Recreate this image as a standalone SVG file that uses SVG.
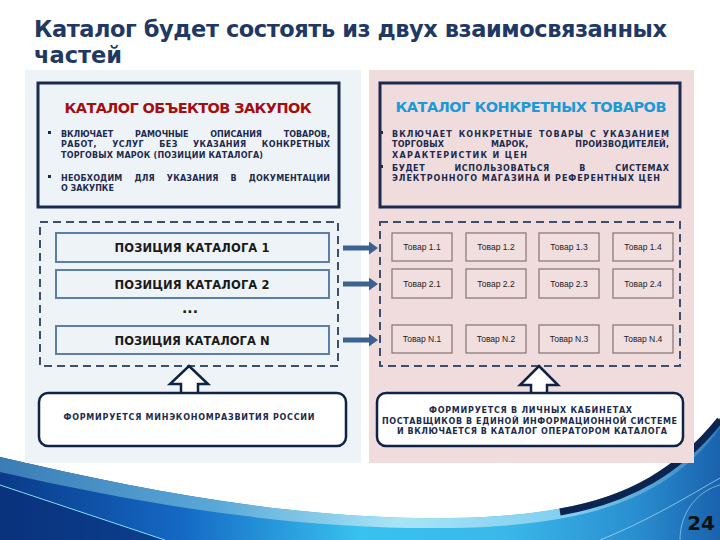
<svg xmlns="http://www.w3.org/2000/svg" width="720" height="540" viewBox="0 0 720 540">
<defs>
<style>
.t{font-family:"DejaVu Sans","Liberation Sans",sans-serif;font-weight:bold}
.title{font-size:22.5px;fill:#1f3864}
.bul{font-size:8px;fill:#1c2b4e}
.pos{font-size:11.5px;fill:#1a1a1a;text-anchor:middle}
.tov{font-family:"Liberation Sans",sans-serif;font-size:8.5px;fill:#222;text-anchor:middle}
.box{stroke:#1b2a4f;stroke-width:3;}
.dash{fill:none;stroke:#3d4f6e;stroke-width:2;stroke-dasharray:8 5}
.pbox{fill:#eef3f8;stroke:#5b7fa6;stroke-width:2}
.tbox{fill:#f1dede;stroke:#8c7b7b;stroke-width:1.3}
.conn{stroke:#3b6190;stroke-width:5;marker-end:url(#ah)}
.up{fill:#fff;stroke:#0f2346;stroke-width:2.5;stroke-linejoin:miter}
.rbox{fill:#fff;stroke:#0f2346;stroke-width:2.5}
.btxt{font-size:8px;fill:#1c2b4e;text-anchor:middle}
</style>
<marker id="ah" markerUnits="userSpaceOnUse" markerWidth="10" markerHeight="13" refX="0" refY="6.5" orient="auto">
<path d="M0,0 L9,6.5 L0,13 Z" fill="#3b6190"/>
</marker>
<linearGradient id="gBase" x1="0" y1="0" x2="1" y2="0">
<stop offset="0" stop-color="#0a3a88"/>
<stop offset="0.25" stop-color="#1468c4"/>
<stop offset="0.5" stop-color="#38c2ef"/>
<stop offset="0.7" stop-color="#3ab8ea"/>
<stop offset="0.88" stop-color="#2a8fd0"/>
<stop offset="1" stop-color="#1a62ad"/>
</linearGradient>
<linearGradient id="gTop" x1="0" y1="0" x2="1" y2="0">
<stop offset="0" stop-color="#3a7cb6"/>
<stop offset="0.3" stop-color="#5aa8d8"/>
<stop offset="0.55" stop-color="#a8e4f6"/>
<stop offset="0.8" stop-color="#7fcdf0"/>
<stop offset="1" stop-color="#2f7fc0"/>
</linearGradient>
</defs>
<rect width="720" height="540" fill="#ffffff"/>

<!-- bottom swoosh -->
<g id="swoosh">
<path d="M0,457 C150,492 300,520 450,518 C585,516 665,490 720,418 L720,540 L0,540 Z" fill="url(#gBase)"/>
<path d="M0,457 C150,492 300,520 450,518 C585,516 665,490 720,418 L720,428 C668,500 585,526 450,528 C300,530 150,506 0,472 Z" fill="url(#gTop)"/>
<path d="M0,485 C60,505 120,525 165,540 L0,540 Z" fill="#0a2f78" opacity="0.7"/>
<path d="M0,485 C60,505 120,525 165,540" fill="none" stroke="#7fe0ff" stroke-width="1"/>
<path d="M560,512 C630,500 680,470 720,420" fill="none" stroke="#0c2550" stroke-width="7"/>
<path d="M600,540 C650,520 690,495 720,478" fill="none" stroke="#b8ecff" stroke-width="0.8" opacity="0.8"/>
<path d="M680,540 C680,510 700,490 720,485" fill="none" stroke="#b8ecff" stroke-width="0.8" opacity="0.7"/>
</g>

<!-- title -->
<text class="t title" x="34" y="37" textLength="633" lengthAdjust="spacing">Каталог будет состоять из двух взаимосвязанных</text>
<text class="t title" x="34" y="63">частей</text>

<!-- panels -->
<rect id="panel-left" x="25" y="70" width="336" height="393" fill="#eef3f8"/>
<rect id="panel-right" x="369" y="70" width="325" height="393" fill="#f0dcdc"/>

<!-- upper left box -->
<g id="catalog-objects">
<rect class="box" x="38" y="83" width="301" height="124" fill="#eef3f8"/>
<text class="t" x="188" y="112.5" font-size="14.5" fill="#a50e0e" text-anchor="middle" textLength="247" lengthAdjust="spacing">КАТАЛОГ ОБЪЕКТОВ ЗАКУПОК</text>
<rect x="48" y="131" width="3" height="3" fill="#1c2b4e"/>
<text class="t bul" x="61" y="136.5" word-spacing="19" textLength="269" lengthAdjust="spacing">ВКЛЮЧАЕТ РАМОЧНЫЕ ОПИСАНИЯ ТОВАРОВ,</text>
<text class="t bul" x="61" y="147" word-spacing="12" textLength="269" lengthAdjust="spacing">РАБОТ, УСЛУГ БЕЗ УКАЗАНИЯ КОНКРЕТНЫХ</text>
<text class="t bul" x="61" y="157.5" textLength="202" lengthAdjust="spacing">ТОРГОВЫХ МАРОК (ПОЗИЦИИ КАТАЛОГА)</text>
<rect x="48" y="175" width="3" height="3" fill="#1c2b4e"/>
<text class="t bul" x="61" y="181" word-spacing="9" textLength="269" lengthAdjust="spacing">НЕОБХОДИМ ДЛЯ УКАЗАНИЯ В ДОКУМЕНТАЦИИ</text>
<text class="t bul" x="61" y="191">О ЗАКУПКЕ</text>
</g>

<!-- upper right box -->
<g id="catalog-goods">
<rect class="box" x="380" y="83" width="300" height="124" fill="#f0dcdc"/>
<text class="t" x="531" y="112" font-size="14.5" fill="#1a9ad6" text-anchor="middle" textLength="271" lengthAdjust="spacing">КАТАЛОГ КОНКРЕТНЫХ ТОВАРОВ</text>
<rect x="380" y="131" width="3" height="3" fill="#1c2b4e"/>
<text class="t bul" x="392" y="136.5" word-spacing="2" textLength="277" lengthAdjust="spacing">ВКЛЮЧАЕТ КОНКРЕТНЫЕ ТОВАРЫ С УКАЗАНИЕМ</text>
<text class="t bul" x="392" y="147" word-spacing="44" textLength="277" lengthAdjust="spacing">ТОРГОВЫХ МАРОК, ПРОИЗВОДИТЕЛЕЙ,</text>
<text class="t bul" x="392" y="157.5" textLength="135" lengthAdjust="spacing">ХАРАКТЕРИСТИК И ЦЕН</text>
<rect x="380" y="165" width="3" height="3" fill="#1c2b4e"/>
<text class="t bul" x="392" y="170.5" word-spacing="26" textLength="277" lengthAdjust="spacing">БУДЕТ ИСПОЛЬЗОВАТЬСЯ В СИСТЕМАХ</text>
<text class="t bul" x="392" y="181" textLength="268" lengthAdjust="spacing">ЭЛЕКТРОННОГО МАГАЗИНА И РЕФЕРЕНТНЫХ ЦЕН</text>
</g>

<!-- positions -->
<g id="positions">
<rect class="dash" x="40" y="222" width="298" height="144"/>
<g id="pos-1"><rect class="pbox" x="56" y="233" width="273" height="29"/><text class="t pos" x="192" y="252" textLength="155" lengthAdjust="spacing">ПОЗИЦИЯ КАТАЛОГА 1</text></g>
<g id="pos-2"><rect class="pbox" x="56" y="270" width="273" height="28"/><text class="t pos" x="192" y="289" textLength="155" lengthAdjust="spacing">ПОЗИЦИЯ КАТАЛОГА 2</text></g>
<text class="t" x="190" y="313" font-size="14" fill="#1a1a1a" text-anchor="middle">...</text>
<g id="pos-n"><rect class="pbox" x="56" y="326" width="273" height="28"/><text class="t pos" x="192" y="345" textLength="155" lengthAdjust="spacing">ПОЗИЦИЯ КАТАЛОГА N</text></g>
</g>

<!-- goods grid -->
<g id="goods">
<rect class="dash" x="380" y="222" width="300" height="144"/>
<g id="g11"><rect class="tbox" x="392" y="233" width="60" height="28"/><text class="tov" x="422" y="250">Товар 1.1</text></g>
<g id="g12"><rect class="tbox" x="466" y="233" width="60" height="28"/><text class="tov" x="496" y="250">Товар 1.2</text></g>
<g id="g13"><rect class="tbox" x="539" y="233" width="60" height="28"/><text class="tov" x="569" y="250">Товар 1.3</text></g>
<g id="g14"><rect class="tbox" x="613" y="233" width="60" height="28"/><text class="tov" x="643" y="250">Товар 1.4</text></g>
<g id="g21"><rect class="tbox" x="392" y="269" width="60" height="29"/><text class="tov" x="422" y="286.5">Товар 2.1</text></g>
<g id="g22"><rect class="tbox" x="466" y="269" width="60" height="29"/><text class="tov" x="496" y="286.5">Товар 2.2</text></g>
<g id="g23"><rect class="tbox" x="539" y="269" width="60" height="29"/><text class="tov" x="569" y="286.5">Товар 2.3</text></g>
<g id="g24"><rect class="tbox" x="613" y="269" width="60" height="29"/><text class="tov" x="643" y="286.5">Товар 2.4</text></g>
<g id="gn1"><rect class="tbox" x="392" y="325" width="60" height="28"/><text class="tov" x="422" y="342">Товар N.1</text></g>
<g id="gn2"><rect class="tbox" x="466" y="325" width="60" height="28"/><text class="tov" x="496" y="342">Товар N.2</text></g>
<g id="gn3"><rect class="tbox" x="539" y="325" width="60" height="28"/><text class="tov" x="569" y="342">Товар N.3</text></g>
<g id="gn4"><rect class="tbox" x="613" y="325" width="60" height="28"/><text class="tov" x="643" y="342">Товар N.4</text></g>
</g>

<!-- connectors -->
<g id="connectors">
<line class="conn" x1="343" y1="248" x2="369" y2="248"/>
<line class="conn" x1="343" y1="284" x2="369" y2="284"/>
<line class="conn" x1="343" y1="340" x2="369" y2="340"/>
<polygon class="up" points="189,366 208,384 198,384 198,394 181,394 181,384 170,384"/>
<polygon class="up" points="539,366 558,385 547,385 547,394 531,394 531,385 520,385"/>
</g>

<!-- bottom boxes -->
<g id="source-left">
<rect class="rbox" x="39" y="393" width="307" height="53" rx="9"/>
<text class="t btxt" x="189" y="420" textLength="251" lengthAdjust="spacing">ФОРМИРУЕТСЯ МИНЭКОНОМРАЗВИТИЯ РОССИИ</text>
</g>
<g id="source-right">
<rect class="rbox" x="377" y="393" width="306" height="53" rx="9"/>
<text class="t btxt" x="530.5" y="413" textLength="203" lengthAdjust="spacing">ФОРМИРУЕТСЯ В ЛИЧНЫХ КАБИНЕТАХ</text>
<text class="t btxt" x="529.5" y="423.5" textLength="295" lengthAdjust="spacing">ПОСТАВЩИКОВ В ЕДИНОЙ ИНФОРМАЦИОННОЙ СИСТЕМЕ</text>
<text class="t btxt" x="532" y="434" textLength="270" lengthAdjust="spacing">И ВКЛЮЧАЕТСЯ В КАТАЛОГ ОПЕРАТОРОМ КАТАЛОГА</text>
</g>

<text class="t" x="715" y="530" font-size="20" fill="#111" text-anchor="end">24</text>
</svg>
